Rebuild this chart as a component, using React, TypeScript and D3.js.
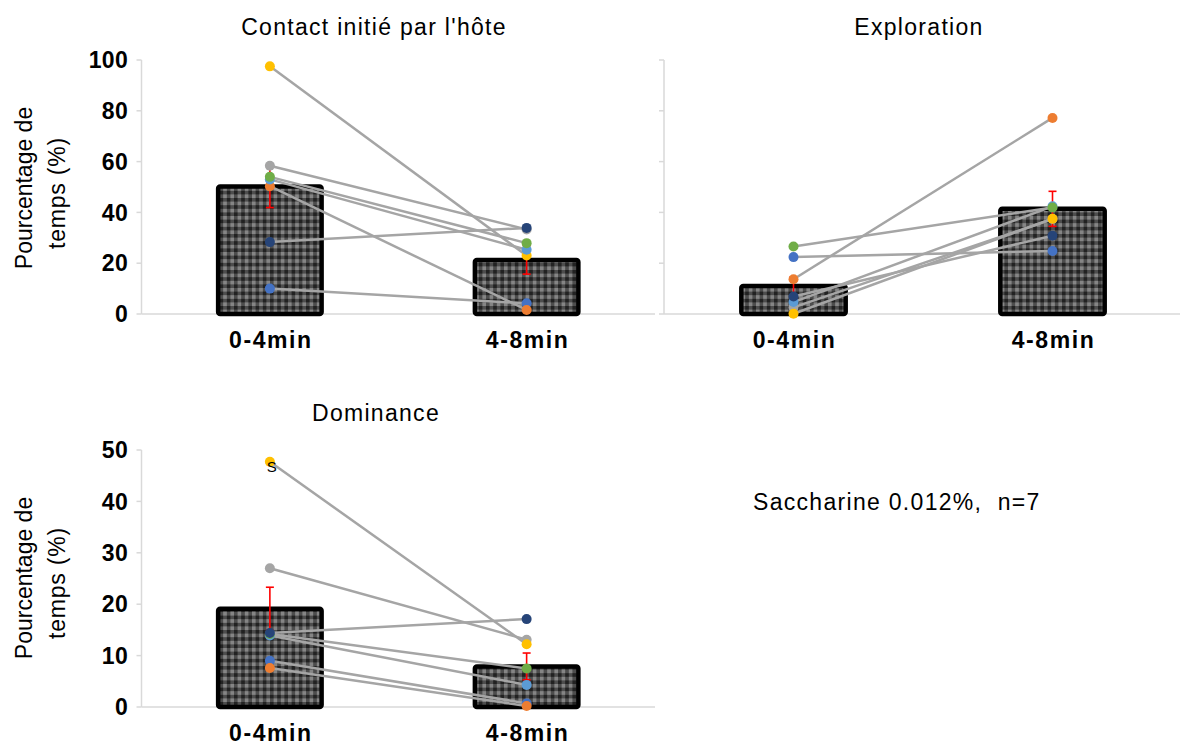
import React from 'react';
import * as d3 from 'd3';

// categories and series (Excel default colours, in series order)
const categories = ['0-4min', '4-8min'];
const seriesColors = ['#4472C4', '#ED7D31', '#A5A5A5', '#FFC000', '#5B9BD5', '#70AD47', '#264478'];

// Contact initié par l'hôte
const contactFirst = [10.0, 50.3, 58.4, 97.5, 53.0, 54.0, 28.3];
const contactSecond = [4.2, 1.6, 33.3, 23.0, 25.3, 27.9, 33.9];
const contactMeans = [50.2, 21.3];
const contactSem = [8.3, 5.6];

// Exploration
const explorationFirst = [22.4, 13.7, 2.6, 0.1, 4.7, 26.6, 6.9];
const explorationSecond = [24.8, 77.2, 37.4, 37.5, 42.4, 41.9, 30.8];
const explorationMeans = [11.0, 41.4];
const explorationSem = [3.6, 6.9];

// Dominance
const dominanceFirst = [9.0, 7.6, 27.0, 47.7, 13.9, 14.2, 14.4];
const dominanceSecond = [0.7, 0.2, 13.1, 12.2, 4.3, 7.5, 17.1];
const dominanceMeans = [19.1, 7.9];
const dominanceSem = [4.2, 2.6];

const percentTicks = [0, 20, 40, 60, 80, 100];
const dominanceTicks = [0, 10, 20, 30, 40, 50];

const FONT = '"Liberation Sans", Arial, sans-serif';
const AXIS_COLOR = '#d9d9d9';

type PanelProps = {
  left: number;
  right: number;
  top: number;
  bottom: number;
  yMax: number;
  ticks: number[];
  showLabels: boolean;
  first: number[];
  second: number[];
  means: number[];
  sem: number[];
};

const Panel = ({ left, right, top, bottom, yMax, ticks, showLabels, first, second, means, sem }: PanelProps) => {
  const x = d3.scaleBand<string>()
    .domain(categories)
    .range([left, right])
    .paddingInner(0.597)
    .paddingOuter(0.2985);
  const y = d3.scaleLinear().domain([0, yMax]).range([bottom, top]);
  const cx = (c: string) => (x(c) as number) + x.bandwidth() / 2;
  const line = d3.line<number>()
    .x((_, i) => cx(categories[i]))
    .y(d => y(d));

  return (
    <g>
      {/* axes */}
      <line x1={left} x2={right} y1={y(0)} y2={y(0)} stroke={AXIS_COLOR} strokeWidth={1.5} />
      <line x1={left} x2={left} y1={y(yMax)} y2={y(0)} stroke={AXIS_COLOR} strokeWidth={1.5} />
      {ticks.map(t => (
        <g key={t}>
          <line x1={left - 5} x2={left} y1={y(t)} y2={y(t)} stroke={AXIS_COLOR} strokeWidth={1.5} />
          {showLabels && (
            <text x={128} y={y(t)} dy="0.36em" textAnchor="end" fontSize={23} fontWeight="bold"
              letterSpacing={0.3} fontFamily={FONT} fill="#000">{t}</text>
          )}
        </g>
      ))}

      {/* bars */}
      {categories.map((c, i) => (
        <rect key={c} x={x(c)} y={y(means[i])} width={x.bandwidth()} height={y(0) - y(means[i])}
          fill="url(#plaid)" stroke="#000" strokeWidth={4.5} rx={2} />
      ))}

      {/* error bars */}
      {categories.map((c, i) => (
        <g key={c} stroke="#ff0000" strokeWidth={1.6}>
          <line x1={cx(c)} x2={cx(c)} y1={y(means[i] - sem[i])} y2={y(means[i] + sem[i])} />
          <line x1={cx(c) - 4} x2={cx(c) + 4} y1={y(means[i] - sem[i])} y2={y(means[i] - sem[i])} />
          <line x1={cx(c) - 4} x2={cx(c) + 4} y1={y(means[i] + sem[i])} y2={y(means[i] + sem[i])} />
        </g>
      ))}

      {/* individuals */}
      {seriesColors.map((col, s) => {
        const vals = [first[s], second[s]];
        return (
          <g key={s}>
            <path d={line(vals) || ''} fill="none" stroke="#a5a5a5" strokeWidth={2.5} />
            {vals.map((v, i) => (
              <circle key={i} cx={cx(categories[i])} cy={y(v)} r={5} fill={col} />
            ))}
          </g>
        );
      })}

      {/* category labels */}
      {categories.map(c => (
        <text key={c} x={cx(c) + 1} y={y(0) + 34} textAnchor="middle" fontSize={23} fontWeight="bold"
          letterSpacing={1.6} fontFamily={FONT} fill="#000">{c}</text>
      ))}
    </g>
  );
};

const YTitle = ({ cy }: { cy: number }) => (
  <g fontFamily={FONT} fontSize={23} fill="#000" textAnchor="middle">
    <text transform={`translate(32,${cy - 5}) rotate(-90)`}>Pourcentage de</text>
    <text transform={`translate(65,${cy}) rotate(-90)`} letterSpacing={0.8}>temps (%)</text>
  </g>
);

const App = () => {
  const domY = d3.scaleLinear().domain([0, 50]).range([707, 450]);
  const domX = d3.scaleBand<string>().domain(categories).range([141.5, 655]).paddingInner(0.597).paddingOuter(0.2985);

  return (
    <svg width={1180} height={746} style={{ position: 'absolute', left: 0, top: 0, background: '#fff' }}>
      <defs>
        <pattern id="plaid" width={7.2} height={7.2} patternUnits="userSpaceOnUse">
          <rect width={7.2} height={7.2} fill="#222" />
          <rect width={3.6} height={7.2} fill="#4d4d4d" />
          <rect width={7.2} height={3.6} fill="#4d4d4d" />
          <rect width={3.6} height={3.6} fill="#858585" />
        </pattern>
      </defs>

      <Panel left={141.5} right={655} top={60} bottom={314} yMax={100} ticks={percentTicks} showLabels
        first={contactFirst} second={contactSecond} means={contactMeans} sem={contactSem} />
      <Panel left={664} right={1182} top={60} bottom={314} yMax={100} ticks={percentTicks} showLabels={false}
        first={explorationFirst} second={explorationSecond} means={explorationMeans} sem={explorationSem} />
      <Panel left={141.5} right={655} top={450} bottom={707} yMax={50} ticks={dominanceTicks} showLabels
        first={dominanceFirst} second={dominanceSecond} means={dominanceMeans} sem={dominanceSem} />

      <YTitle cy={193} />
      <YTitle cy={583} />

      <g fontFamily={FONT} fontSize={23} fill="#000" textAnchor="middle" letterSpacing={1.3}>
        <text x={374} y={35}>Contact initié par l'hôte</text>
        <text x={919} y={35}>Exploration</text>
        <text x={376} y={421}>Dominance</text>
      </g>

      {/* significance mark on the highest dominance point */}
      <text x={(domX('0-4min') as number) + domX.bandwidth() / 2 + 2} y={domY(dominanceFirst[3]) + 10}
        textAnchor="middle" fontSize={15} fontFamily={FONT} fill="#000">S</text>

      <text x={753} y={510} fontSize={23} fontFamily={FONT} fill="#000" letterSpacing={1.3}
        style={{ whiteSpace: 'pre' }}>Saccharine 0.012%,  n=7</text>
    </svg>
  );
};

export default App;
